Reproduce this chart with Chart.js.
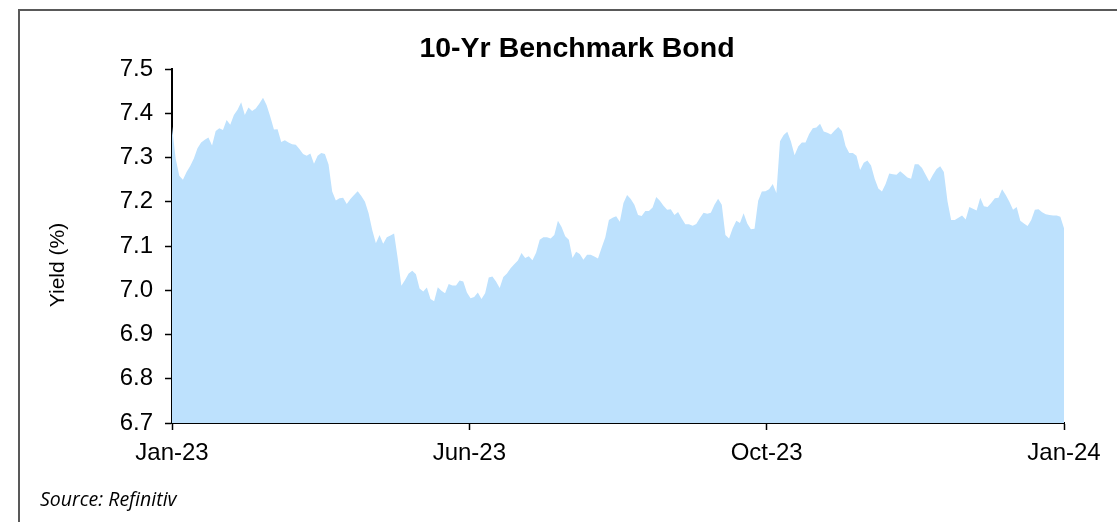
<!DOCTYPE html>
<html>
<head>
<meta charset="utf-8">
<script src="https://cdn.jsdelivr.net/npm/chart.js@4.4.1/dist/chart.umd.min.js"></script>
<style>
  html, body { margin: 0; padding: 0; background: #fff; overflow: hidden; }
  #wrap { position: relative; width: 1117px; height: 522px; }
  #frame { position: absolute; left: 18px; top: 9px; width: 1200px; height: 600px; border: 2px solid #595959; }
  canvas { position: absolute; left: 0; top: 0; }
</style>
</head>
<body>
<div id="wrap">
  <div id="frame"></div>
  <canvas id="bondChart" width="1117" height="522"></canvas>
</div>
<script>
// daily 10-yr benchmark yield, Jan-23 .. Jan-24
const yields = [
  7.370, 7.298, 7.259, 7.250, 7.267, 7.281, 7.298, 7.321, 7.334, 7.340,
  7.345, 7.327, 7.360, 7.366, 7.362, 7.385, 7.374, 7.396, 7.408, 7.425,
  7.396, 7.413, 7.405, 7.411, 7.422, 7.435, 7.418, 7.392, 7.363, 7.364,
  7.335, 7.339, 7.334, 7.330, 7.329, 7.319, 7.308, 7.304, 7.309, 7.286,
  7.304, 7.310, 7.308, 7.284, 7.223, 7.203, 7.208, 7.209, 7.195,
  7.206, 7.215, 7.224, 7.213, 7.200, 7.174, 7.136, 7.106, 7.125, 7.105,
  7.120, 7.124, 7.128, 7.072, 7.010, 7.023, 7.038, 7.044, 7.036, 7.004,
  6.997, 7.006, 6.980, 6.975, 7.007, 6.999, 6.993, 7.014, 7.011, 7.011,
  7.022, 7.020, 6.995, 6.982, 6.985, 6.995, 6.980, 6.993, 7.029, 7.031,
  7.020, 7.005, 7.030, 7.038, 7.050, 7.059, 7.067, 7.084, 7.073,
  7.077, 7.068, 7.085, 7.114, 7.120, 7.120, 7.117, 7.125, 7.157, 7.143,
  7.122, 7.114, 7.073, 7.087, 7.082, 7.069, 7.080, 7.080, 7.076, 7.072,
  7.096, 7.119, 7.159, 7.164, 7.167, 7.155, 7.197, 7.215, 7.206, 7.193,
  7.170, 7.168, 7.179, 7.179, 7.187, 7.211, 7.202, 7.191, 7.182, 7.183,
  7.170, 7.177, 7.162, 7.149, 7.149, 7.146, 7.150, 7.163, 7.175, 7.173,
  7.175, 7.193, 7.207, 7.193, 7.125, 7.117, 7.140, 7.157, 7.152, 7.174,
  7.151, 7.138, 7.139, 7.202, 7.223, 7.224, 7.228, 7.240, 7.220, 7.337,
  7.351, 7.358, 7.336, 7.305, 7.325, 7.334, 7.334, 7.353, 7.366, 7.368,
  7.376, 7.359, 7.356, 7.352, 7.361, 7.369, 7.360, 7.326, 7.310, 7.310,
  7.304, 7.272, 7.288, 7.293, 7.282, 7.252, 7.230, 7.223, 7.240,
  7.264, 7.262, 7.261, 7.269, 7.262, 7.255, 7.252, 7.285, 7.285, 7.276,
  7.261, 7.246, 7.261, 7.274, 7.280, 7.267, 7.201, 7.159, 7.159, 7.164,
  7.169, 7.160, 7.188, 7.184, 7.180, 7.209, 7.190, 7.188, 7.197, 7.208,
  7.209, 7.228, 7.215, 7.200, 7.182, 7.188, 7.157, 7.151, 7.145, 7.159,
  7.182, 7.183, 7.176, 7.172, 7.170, 7.169, 7.169, 7.166, 7.140
];

const xTickLabels = ["Jan-23", "Jun-23", "Oct-23", "Jan-24"];
const yMin = 6.7;
const yMax = 7.5;

const dayIndex = yields.map((_, i) => i);
const lastDay = yields.length - 1;

// title, y-axis title and source note are placed where the original has them
const chartText = {
  id: "chartText",
  afterDraw(chart) {
    const c = chart.ctx;
    c.save();
    c.fillStyle = "#000";

    c.font = "bold 28.5px 'Liberation Sans', Arial";
    c.textAlign = "center";
    c.textBaseline = "alphabetic";
    c.fillText("10-Yr Benchmark Bond", 577, 57);

    c.save();
    c.translate(58, 265);
    c.rotate(-Math.PI / 2);
    c.font = "21px 'Liberation Sans', Arial";
    c.textBaseline = "middle";
    c.fillText("Yield (%)", 0, 0);
    c.restore();

    c.font = "italic 19.5px 'Open Sans'";
    c.textAlign = "left";
    c.fillText("Source: Refinitiv", 40, 506);
    c.restore();
  }
};

const ctx = document.getElementById("bondChart");

new Chart(ctx, {
  type: "line",
  data: {
    labels: dayIndex,
    datasets: [{
      label: "10-Yr Benchmark Bond",
      data: yields,
      fill: "start",
      backgroundColor: "#BDE1FD",
      borderWidth: 0,
      pointRadius: 0,
      tension: 0
    }]
  },
  options: {
    responsive: false,
    animation: false,
    layout: {
      padding: { left: 36, right: 53, top: 69, bottom: 39 }
    },
    plugins: {
      legend: { display: false },
      tooltip: { enabled: false },
      title: { display: false }
    },
    scales: {
      x: {
        type: "linear",
        min: 0,
        max: lastDay,
        afterBuildTicks: scale => {
          scale.ticks = xTickLabels.map((_, k) => ({ value: k * lastDay / 3 }));
        },
        afterFit: scale => { scale.height = 60; },
        ticks: {
          autoSkip: false,
          maxRotation: 0,
          padding: 9,
          color: "#000",
          font: { family: "'Liberation Sans', Arial", size: 24 },
          callback: (value, index) => xTickLabels[index]
        },
        grid: { drawOnChartArea: false, tickLength: 7, tickColor: "#000", tickWidth: 1.5 },
        border: { color: "#000", width: 2 }
      },
      y: {
        min: yMin,
        max: yMax,
        afterFit: scale => { scale.width = 136; },
        ticks: {
          stepSize: 0.1,
          padding: 12,
          color: "#000",
          font: { family: "'Liberation Sans', Arial", size: 24 },
          callback: v => v.toFixed(1)
        },
        grid: { drawOnChartArea: false, tickLength: 7, tickColor: "#000", tickWidth: 1.5 },
        border: { color: "#000", width: 2 }
      }
    }
  },
  plugins: [chartText]
});
</script>
</body>
</html>
